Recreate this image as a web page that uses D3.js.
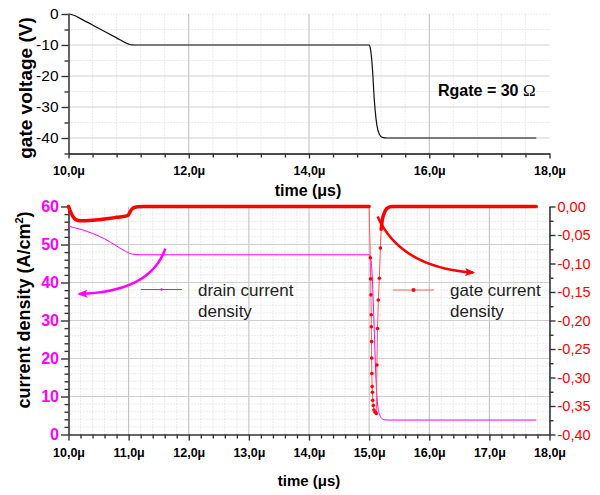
<!DOCTYPE html>
<html>
<head>
<meta charset="utf-8">
<script src="https://cdn.jsdelivr.net/npm/d3@7"></script>
<style>
body { margin: 0; background: #fff; }
svg { font-family: Arial, "Liberation Sans", sans-serif; }
</style>
</head>
<body>
<svg id="chart" width="600" height="495"></svg>
<script>
// gate voltage (V) vs time (us)
var vgTime  = [10.0, 10.05, 10.1, 10.2, 10.5, 10.8, 11.0, 11.05, 11.1, 15.0, 15.02, 15.04, 15.06, 15.08, 15.1, 15.13, 15.17, 15.22, 15.3, 15.4, 17.78];
var vgValue = [0, -0.15, -0.5, -1.5, -4.6, -7.7, -9.7, -9.95, -10, -10, -11, -14, -19, -26, -31, -36, -38.8, -39.8, -40, -40, -40];

// drain current density (A/cm2), left axis
var jdTime  = [10.0, 10.2, 10.4, 10.6, 10.8, 10.95, 11.05, 11.2, 15.0, 15.03, 15.05, 15.08, 15.11, 15.14, 15.17, 15.2, 15.25, 15.35, 17.78];
var jdValue = [54.8, 54.0, 52.9, 51.5, 49.6, 48.2, 47.5, 47.3, 47.3, 46, 42, 30, 16, 8, 5.5, 4.4, 3.9, 3.8, 3.8];

// gate current density, right axis
var jgTime  = [10.0, 10.03, 10.07, 10.12, 10.2, 10.4, 10.6, 10.8, 10.98, 11.0, 11.03, 11.07, 11.15, 11.25, 15.0,
               15.02, 15.025, 15.03, 15.035, 15.037, 15.04, 15.042, 15.045, 15.05, 15.055, 15.06, 15.07, 15.08, 15.1, 15.12,
               15.13, 15.14, 15.153, 15.17, 15.187, 15.2, 15.22, 15.25, 15.27, 15.3, 15.38, 17.78];
var jgValue = [0, -0.008, -0.017, -0.023, -0.025, -0.024, -0.022, -0.019, -0.016, -0.014, -0.008, -0.003, -0.0005, 0, 0,
               -0.09, -0.127, -0.155, -0.19, -0.211, -0.237, -0.266, -0.293, -0.316, -0.326, -0.34, -0.349, -0.357, -0.361, -0.363,
               -0.278, -0.214, -0.164, -0.126, -0.073, -0.04, -0.023, -0.012, -0.007, -0.003, 0, 0];

// axis ticks
var topTimeTicks = [10, 12, 14, 16, 18];
var botTimeTicks = [10, 11, 12, 13, 14, 15, 16, 17, 18];
var voltTicks = [0, -10, -20, -30, -40];
var drainTicks = [0, 10, 20, 30, 40, 50, 60];
var gateTicks = [0, -0.05, -0.1, -0.15, -0.2, -0.25, -0.3, -0.35, -0.4];

// annotation arrows: start, control, end (data coords)
var drainArrow = [[11.61, 48.9], [11.36, 37.5], [10.18, 37.0]];
var gateArrow = [[15.14, -0.0176], [15.52, -0.107], [16.73, -0.116]];

var svg = d3.select("#chart");
var red = "#ff0000", magenta = "#ff00ff";

var x = d3.scaleLinear().domain([10, 18]).range([68.5, 549.5]);
var yV = d3.scaleLinear().domain([-45, 0]).range([153.5, 14]);
var yJ = d3.scaleLinear().domain([0, 60]).range([434.5, 206.5]);
var yG = d3.scaleLinear().domain([-0.4, 0]).range([434.5, 206.5]);

function steps(a, b, s) {
    var out = [];
    for (var i = 0; a + i * s <= b + 1e-9; i++) out.push(+(a + i * s).toFixed(4));
    return out;
}
function notIn(list) { return function(v) { return !list.some(function(m) { return Math.abs(m - v) < 1e-6; }); }; }

var fmtT = function(d) { return d.toFixed(1).replace(".", ",") + "μ"; };
var fmtG = function(d) { return d.toFixed(2).replace(".", ","); };

// ---------- grids ----------
function grid(xs, ys, xMinor, yMinor, yScale) {
    var g = svg.append("g");
    var y0 = yScale.range()[0], y1 = yScale.range()[1];
    g.selectAll(".vm").data(xMinor).enter().append("line")
        .attr("x1", function(d) { return x(d); }).attr("x2", function(d) { return x(d); })
        .attr("y1", y0).attr("y2", y1)
        .attr("stroke", "#d8d8d8").attr("stroke-dasharray", "1,2");
    g.selectAll(".hm").data(yMinor).enter().append("line")
        .attr("x1", x(10)).attr("x2", x(18))
        .attr("y1", function(d) { return yScale(d); }).attr("y2", function(d) { return yScale(d); })
        .attr("stroke", "#d8d8d8").attr("stroke-dasharray", "1,2");
    g.selectAll(".v").data(xs).enter().append("line")
        .attr("x1", function(d) { return x(d); }).attr("x2", function(d) { return x(d); })
        .attr("y1", y0).attr("y2", y1)
        .attr("stroke", "#bdbdbd");
    g.selectAll(".h").data(ys).enter().append("line")
        .attr("x1", x(10)).attr("x2", x(18))
        .attr("y1", function(d) { return yScale(d); }).attr("y2", function(d) { return yScale(d); })
        .attr("stroke", "#cfcfcf");
}

var topXMinor = steps(10, 18, 0.4).filter(notIn(topTimeTicks));
var botXMinor = steps(10, 18, 0.2).filter(notIn(botTimeTicks));
grid([12, 14, 16], [-10, -20, -30, -40], topXMinor, [0, -5, -15, -25, -35], yV);
grid(botTimeTicks.slice(1, -1), [10, 20, 30, 40, 50], botXMinor, steps(2, 58, 2).filter(function(v) { return v % 10; }), yJ);

// ---------- axes ----------
function drawAxis(gen, pos, major, minor, size, minorSize, fmt) {
    var g = svg.append("g").attr("transform", pos);
    g.call(gen.tickValues(major).tickSize(size).tickSizeOuter(0).tickFormat(fmt));
    var m = svg.append("g").attr("transform", pos);
    m.call(gen.tickValues(minor).tickSize(minorSize).tickSizeOuter(0).tickFormat(""));
    m.select(".domain").remove();
    g.attr("font-family", null).attr("font-size", null);
    return g;
}

// top panel
var ax1 = drawAxis(d3.axisBottom(x), "translate(0,153.5)", topTimeTicks, topXMinor, 5, 4, fmtT);
ax1.selectAll("text").attr("y", 21.5).attr("dy", 0).style("font-size", "12.5px").style("font-weight", "bold");
var ay1 = drawAxis(d3.axisLeft(yV), "translate(68.5,0)", voltTicks, [-5, -15, -25, -35, -45], 7, 4, function(d) { return String(d); });
ay1.selectAll("text").attr("x", -10).style("font-size", "15.5px");
[ax1, ay1].forEach(function(a) { a.selectAll("path,line").attr("stroke", "#111").attr("stroke-width", 1.3); });

// bottom panel
var ax2 = drawAxis(d3.axisBottom(x), "translate(0,434.5)", botTimeTicks, botXMinor, 6, 4, fmtT);
ax2.selectAll("text").attr("y", 22.5).attr("dy", 0).style("font-size", "12.5px").style("font-weight", "bold");
var ay2 = drawAxis(d3.axisLeft(yJ), "translate(68.5,0)", drainTicks, steps(0, 60, 2).filter(notIn(drainTicks)), 7.5, 4, function(d) { return String(d); });
ay2.selectAll("text").attr("x", -9.5).style("font-size", "16px").style("font-weight", "bold").attr("fill", magenta);
var ay3 = drawAxis(d3.axisRight(yG), "translate(549.5,0)", gateTicks, steps(-0.375, -0.025, 0.05), 6, 4, fmtG);
ay3.selectAll("text").attr("x", 8).style("font-size", "14.5px").attr("fill", red);
svg.selectAll("g.tick line").filter(function() { return false; });
[ax2, ay2, ay3].forEach(function(a) { a.selectAll("path,line").attr("stroke", "#333").attr("stroke-width", 1.6); });
svg.selectAll("g.tick line").attr("stroke", "#333").attr("stroke-width", 1.4);

// axis titles
svg.append("text").attr("x", 308).attr("y", 196).attr("text-anchor", "middle")
    .style("font-size", "16px").style("font-weight", "bold").text("time (μs)");
svg.append("text").attr("x", 309).attr("y", 486).attr("text-anchor", "middle")
    .style("font-size", "15px").style("font-weight", "bold").text("time (μs)");
svg.append("text").attr("transform", "translate(32,88) rotate(-90)").attr("text-anchor", "middle")
    .style("font-size", "19px").style("font-weight", "bold").text("gate voltage (V)");
var yl = svg.append("text").attr("transform", "translate(30,310) rotate(-90)").attr("text-anchor", "middle")
    .style("font-size", "18px").style("font-weight", "bold");
yl.append("tspan").text("current density (A/cm");
yl.append("tspan").attr("dy", -7).style("font-size", "11px").text("2");
yl.append("tspan").attr("dy", 7).text(")");

// Rgate label
var rg = svg.append("text").attr("x", 438).attr("y", 96).style("font-size", "16px").style("font-weight", "bold");
rg.append("tspan").text("Rgate = 30 ");
rg.append("tspan").style("font-family", "'Liberation Serif', serif").style("font-weight", "normal").style("font-size", "17px").text("Ω");

// ---------- data lines ----------
var vg = vgTime.map(function(t, i) { return [t, vgValue[i]]; });
var jd = jdTime.map(function(t, i) { return [t, jdValue[i]]; });
var jg = jgTime.map(function(t, i) { return [t, jgValue[i]]; });

svg.append("path").datum(vg)
    .attr("d", d3.line().x(function(d) { return x(d[0]); }).y(function(d) { return yV(d[1]); }).curve(d3.curveMonotoneX))
    .attr("fill", "none").attr("stroke", "#111").attr("stroke-width", 1.2);

svg.append("path").datum(jd)
    .attr("d", d3.line().x(function(d) { return x(d[0]); }).y(function(d) { return yJ(d[1]); }).curve(d3.curveMonotoneX))
    .attr("fill", "none").attr("stroke", magenta).attr("stroke-width", 1);

var gLine = d3.line().x(function(d) { return x(d[0]); }).y(function(d) { return yG(d[1]); });
svg.append("path").datum(jg).attr("d", gLine)
    .attr("fill", "none").attr("stroke", "#ff5a5a").attr("stroke-width", 1);
[jg.filter(function(d) { return d[0] <= 15.0; }), jg.filter(function(d) { return d[0] >= 15.2; })].forEach(function(seg) {
    svg.append("path").datum(seg).attr("d", gLine.curve(d3.curveMonotoneX))
        .attr("fill", "none").attr("stroke", red).attr("stroke-width", 3.5).attr("stroke-linecap", "round");
});
svg.selectAll(".gm").data(jg.filter(function(d) { return d[0] > 15.0 && d[0] < 15.2; })).enter().append("circle")
    .attr("cx", function(d) { return x(d[0]); }).attr("cy", function(d) { return yG(d[1]); })
    .attr("r", 1.8).attr("fill", red);

// ---------- arrows ----------
var defs = svg.append("defs");
[["ahM", magenta], ["ahR", red]].forEach(function(a) {
    defs.append("marker").attr("id", a[0]).attr("markerUnits", "userSpaceOnUse")
        .attr("viewBox", "0 0 10 8").attr("refX", 8).attr("refY", 4)
        .attr("markerWidth", 11).attr("markerHeight", 8).attr("orient", "auto")
        .append("path").attr("d", "M0,0 L10,4 L0,8 L2,4 Z").attr("fill", a[1]);
});
function arrow(p, ys, col, id) {
    var d = "M" + x(p[0][0]) + "," + ys(p[0][1]) + " Q" + x(p[1][0]) + "," + ys(p[1][1]) + " " + x(p[2][0]) + "," + ys(p[2][1]);
    svg.append("path").attr("d", d).attr("fill", "none").attr("stroke", col)
        .attr("stroke-width", 2.5).attr("marker-end", "url(#" + id + ")");
}
arrow(drainArrow, yJ, magenta, "ahM");
arrow(gateArrow, yG, red, "ahR");

// ---------- legend ----------
function legend(x0, y0, col, lineCol, r, label) {
    svg.append("line").attr("x1", x0).attr("x2", x0 + 41).attr("y1", y0).attr("y2", y0)
        .attr("stroke", lineCol).attr("stroke-width", 1);
    svg.append("circle").attr("cx", x0 + 20.5).attr("cy", y0).attr("r", r).attr("fill", col);
    var t = svg.append("text").attr("x", x0 + 57).attr("y", y0 + 6).style("font-size", "17px").attr("fill", "#222");
    t.append("tspan").text(label);
    t.append("tspan").attr("x", x0 + 57).attr("dy", 21).text("density");
}
legend(141, 289.5, magenta, magenta, 1.2, "drain current");
legend(393, 290, red, "#ff5a5a", 2, "gate current");
</script>
</body>
</html>
